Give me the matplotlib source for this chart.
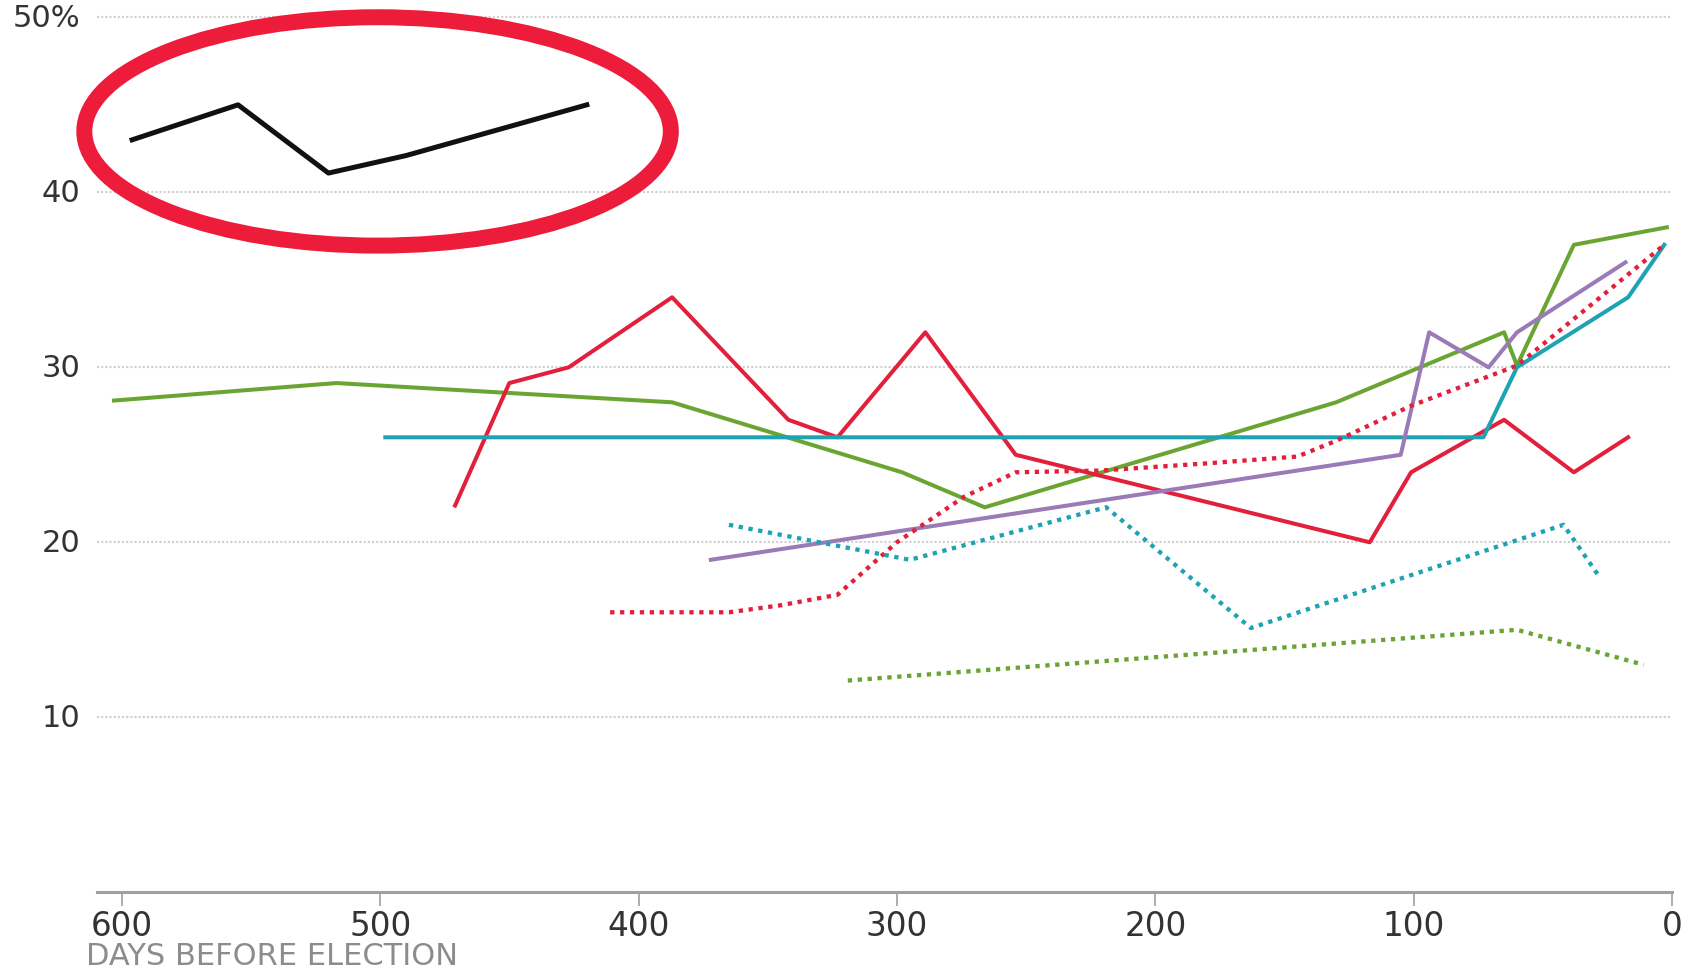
import matplotlib
matplotlib.use("Agg")
import matplotlib.pyplot as plt
from matplotlib.patches import Ellipse

plt.rcParams['font.family'] = ['DejaVu Sans']

# days before election / share of vote (%)
black_days = [596, 555, 520, 490, 420]
black_vals = [43.0, 45.0, 41.1, 42.1, 45.0]

green_days = [603, 517, 387, 298, 266, 130, 65, 60, 38, 2]
green_vals = [28.1, 29.1, 28.0, 24.0, 22.0, 28.0, 32.0, 30.1, 37.0, 38.0]

red_days = [471, 450, 427, 387, 342, 323, 289, 254, 117, 101, 65, 38, 17]
red_vals = [22.1, 29.1, 30.0, 34.0, 27.0, 26.0, 32.0, 25.0, 20.0, 24.0, 27.0, 24.0, 26.0]

cyan_days = [498, 73, 60, 17, 3]
cyan_vals = [26.0, 26.0, 30.0, 34.0, 37.0]

purple_days = [372, 105, 94, 71, 60, 18]
purple_vals = [19.0, 25.0, 32.0, 30.0, 32.0, 36.0]

red_dot_days = [411, 365, 345, 323, 300, 274, 254, 221, 181, 145, 130, 101, 60, 3]
red_dot_vals = [16.0, 16.0, 16.4, 17.0, 20.0, 22.6, 24.0, 24.1, 24.5, 24.9, 25.8, 27.8, 30.1, 37.0]

cyan_dot_days = [365, 295, 219, 163, 42, 28]
cyan_dot_vals = [21.0, 19.0, 22.0, 15.1, 21.0, 18.0]

green_dot_days = [319, 60, 11]
green_dot_vals = [12.1, 15.0, 13.0]

x_ticks = [600, 500, 400, 300, 200, 100, 0]
y_ticks = [10, 20, 30, 40, 50]
y_labels = ["10", "20", "30", "40", "50%"]

RED = "#e3203b"
GREEN = "#6aa534"
CYAN = "#1fa3b3"
PURPLE = "#9a7bb7"
DOTS = (0, (1, 1.3))

fig = plt.figure(figsize=(16.85, 9.70), dpi=100)
ax = fig.add_axes([0.0577, 0.0791, 0.9346, 0.902])

for y in y_ticks:
    ax.axhline(y, color="#cfcfcf", lw=1.5, ls=(0, (1, 1)), zorder=1, clip_on=False)

lw = 2.9
ax.plot(green_days, green_vals, color=GREEN, lw=lw, zorder=3)
ax.plot(red_days, red_vals, color=RED, lw=lw, zorder=3)
ax.plot(cyan_days, cyan_vals, color=CYAN, lw=lw, zorder=3)
ax.plot(purple_days, purple_vals, color=PURPLE, lw=lw, zorder=3)
ax.plot(red_dot_days, red_dot_vals, color=RED, lw=3.1, ls=DOTS, zorder=3)
ax.plot(cyan_dot_days, cyan_dot_vals, color=CYAN, lw=3.1, ls=DOTS, zorder=3)
ax.plot(green_dot_days, green_dot_vals, color=GREEN, lw=3.1, ls=DOTS, zorder=3)
ax.plot(black_days, black_vals, color="#111111", lw=3.6, zorder=4, clip_on=False)

# red highlight ring around the black line
ring = Ellipse((501, 43.48), width=227, height=13.05, fill=False,
               edgecolor="#ec1c3a", lw=11.5, zorder=5, clip_on=False)
ax.add_patch(ring)

ax.set_xlim(609.5, 0)
ax.set_ylim(0, 50)

for side in ["top", "right", "left"]:
    ax.spines[side].set_visible(False)
ax.spines["bottom"].set_color("#a0a0a0")
ax.spines["bottom"].set_linewidth(2.2)

ax.set_xticks(x_ticks)
ax.set_xticklabels([str(v) for v in x_ticks])
ax.set_yticks(y_ticks)
ax.set_yticklabels(y_labels)
ax.tick_params(axis="x", length=10, width=1.2, color="#a0a0a0", pad=2,
               labelsize=23.5, labelcolor="#333333")
ax.tick_params(axis="y", length=0, pad=12, labelsize=22, labelcolor="#333333")
for lab in ax.get_yticklabels():
    lab.set_verticalalignment("center")

fig.text(86 / 1685, 0.005, "DAYS BEFORE ELECTION", fontsize=22,
         color="#8c8c8c", ha="left", va="baseline")

fig.savefig("out.png", dpi=100)
